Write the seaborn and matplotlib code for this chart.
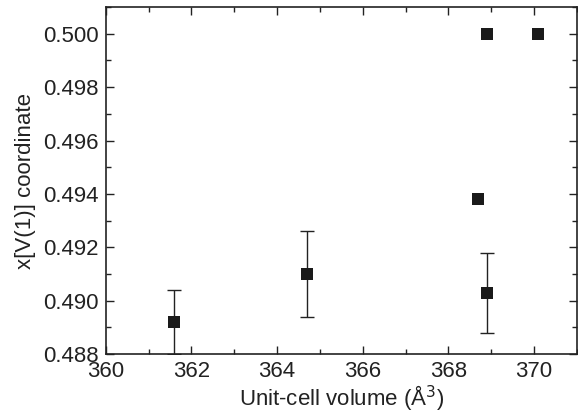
import matplotlib
matplotlib.use("Agg")
import matplotlib.pyplot as plt
import seaborn as sns
import pandas as pd
from matplotlib.ticker import MultipleLocator

volume = [361.6, 364.7, 368.9, 368.7, 368.9, 370.1]
xcoord = [0.4892, 0.4910, 0.4903, 0.4938, 0.5000, 0.5000]
err = [0.0012, 0.0016, 0.0015, 0.0, 0.0, 0.0]

df = pd.DataFrame({"volume": volume, "x": xcoord, "err": err})

sns.set_theme(style="ticks")
plt.rcParams['font.family'] = ['Liberation Sans', 'DejaVu Sans']

fig = plt.figure(figsize=(5.78, 4.19), dpi=100)
ax = fig.add_axes([0.183, 0.155, 0.815, 0.828])

eb = df[df.err > 0]
ax.errorbar(eb.volume, eb.x, yerr=eb.err, fmt='none', ecolor='#222222',
            elinewidth=1.0, capsize=5, capthick=1.0, zorder=2, clip_on=True)
sns.scatterplot(data=df, x="volume", y="x", marker='s', s=75, color='#1a1a1a',
                edgecolor='none', ax=ax, zorder=3, legend=False)

ax.set_xlim(360, 371)
ax.set_ylim(0.488, 0.501)
ax.xaxis.set_major_locator(MultipleLocator(2))
ax.xaxis.set_minor_locator(MultipleLocator(1))
ax.yaxis.set_major_locator(MultipleLocator(0.002))
ax.yaxis.set_minor_locator(MultipleLocator(0.001))
ax.yaxis.set_major_formatter(matplotlib.ticker.FormatStrFormatter('%.3f'))
ax.tick_params(which='both', direction='in', top=True, right=True, labelsize=16, color='#222222',
               labelcolor='#222222')
ax.tick_params(axis='x', which='major', pad=5)
ax.tick_params(axis='y', which='major', pad=5)
ax.tick_params(which='major', length=6, width=1.0)
ax.tick_params(which='minor', length=3.5, width=1.0)
for sp in ax.spines.values():
    sp.set_linewidth(1.2)
    sp.set_color('#222222')
ax.set_xlabel("Unit-cell volume (Å$^3$)", fontsize=16, labelpad=1, color='#222222')
ax.set_ylabel("x[V(1)] coordinate", fontsize=16, labelpad=5, color='#222222')

fig.savefig("out.png", dpi=100)
